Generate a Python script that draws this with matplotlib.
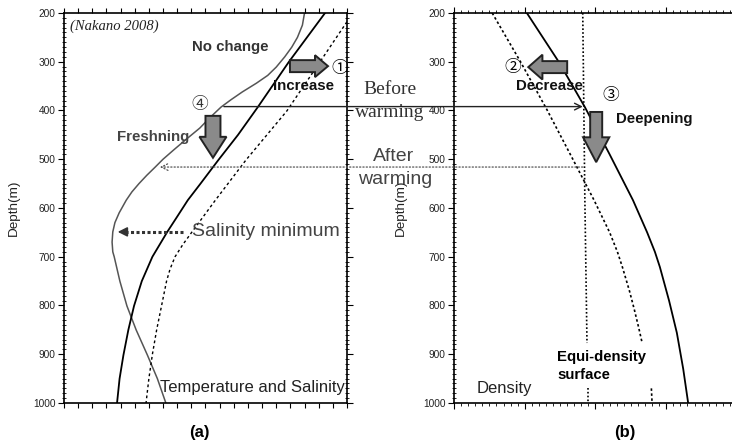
import matplotlib
matplotlib.use("Agg")
import matplotlib.pyplot as plt
from matplotlib.patches import FancyArrow, ConnectionPatch
from matplotlib.ticker import MultipleLocator

plt.rcParams['font.family'] = ['Liberation Sans', 'DejaVu Sans']

# panel (a): temperature and salinity profiles (x in arbitrary units)
sal_depth = [200, 225, 250, 270, 290, 311, 328, 344, 362, 378, 393, 415, 436, 460, 481, 500, 516,
             533, 550, 567, 584, 610, 630, 649, 670, 690, 700, 750, 801, 850, 902, 950, 1000]
sal_x = [17.0, 16.85, 16.5, 16.1, 15.6, 15.0, 14.4, 13.6, 12.6, 11.8, 11.1, 10.3, 9.6, 8.6, 7.75, 7.0, 6.45,
         5.85, 5.3, 4.8, 4.4, 3.9, 3.6, 3.45, 3.4, 3.45, 3.55, 3.95, 4.45, 5.1, 5.9, 6.6, 7.2]

temp_depth = [200, 300, 393, 450, 502, 550, 584, 620, 649, 700, 750, 801, 850, 902, 950, 1000]
temp_x = [18.45, 15.9, 13.7, 12.3, 10.9, 9.65, 8.75, 7.95, 7.3, 6.25, 5.5, 4.95, 4.55, 4.2, 3.93, 3.75]

temp_after_depth = [218, 300, 401, 502, 584, 649, 675, 700, 725, 750, 800, 850, 900, 950, 1000]
temp_after_x = [20.0, 18.1, 15.75, 12.85, 10.7, 9.05, 8.4, 7.85, 7.5, 7.25, 6.9, 6.55, 6.25, 6.0, 5.8]

# panel (b): density profiles
dens_depth = [200, 300, 393, 490, 584, 650, 690, 721, 790, 856, 930, 1000]
dens_x = [1.03, 1.48, 1.85, 2.2, 2.53, 2.73, 2.84, 2.91, 3.04, 3.15, 3.24, 3.31]

dens_after_depth = [200, 300, 400, 500, 584, 650, 690, 721, 770, 809, 845, 877]
dens_after_x = [0.54, 0.94, 1.32, 1.68, 1.98, 2.2, 2.31, 2.38, 2.48, 2.55, 2.61, 2.66]
dens_after_low_depth = [970, 1000]
dens_after_low_x = [2.79, 2.80]

iso_depth = [200, 584, 877]
iso_x = [1.82, 1.85, 1.88]
iso_low_depth = [970, 1000]
iso_low_x = [1.90, 1.90]

before_depth = 392
after_depth = 516
salmin_depth = 649

depth_ticks = [200, 300, 400, 500, 600, 700, 800, 900, 1000]

fig = plt.figure(figsize=(7.32, 4.45), dpi=100)
ax1 = fig.add_axes([0.0874, 0.0944, 0.3866, 0.8764])
ax2 = fig.add_axes([0.6202, 0.0944, 0.3866, 0.8764])

# curves
ax1.plot(sal_x, sal_depth, color='#555555', lw=1.1)
ax1.plot(temp_x, temp_depth, color='black', lw=1.3)
ax1.plot(temp_after_x, temp_after_depth, color='black', lw=1.0, ls=(0, (2, 2)))

ax2.plot(dens_x, dens_depth, color='black', lw=1.3)
ax2.plot(dens_after_x, dens_after_depth, color='black', lw=1.2, ls=(0, (1.5, 1.5)))
ax2.plot(dens_after_low_x, dens_after_low_depth, color='black', lw=1.2, ls=(0, (1.5, 1.5)))
ax2.plot(iso_x, iso_depth, color='black', lw=1.2, ls=(0, (1, 1.3)))
ax2.plot(iso_low_x, iso_low_depth, color='black', lw=1.2, ls=(0, (1, 1.3)))

for ax, xmax in ((ax1, 20), (ax2, 4)):
    ax.set_xlim(0, xmax)
    ax.set_ylim(1000, 200)
    ax.set_yticks(depth_ticks)
    ax.yaxis.set_minor_locator(MultipleLocator(10))
    ax.tick_params(axis='y', which='major', direction='out', length=4, width=0.8,
                   left=True, right=True, labelsize=7.3, labelcolor='#222222', pad=2)
    ax.tick_params(axis='y', which='minor', direction='inout', length=3, width=0.6,
                   left=True, right=True)
    ax.tick_params(axis='x', which='both', top=True, bottom=True, labelbottom=False)
    for s in ax.spines.values():
        s.set_linewidth(1.2)
    ax.set_ylabel('Depth(m)', fontsize=9.7, color='#222222')

ax1.xaxis.set_major_locator(MultipleLocator(1))
ax1.tick_params(axis='x', which='major', direction='out', length=3.5, width=0.8)
ax2.xaxis.set_major_locator(MultipleLocator(1))
ax2.xaxis.set_minor_locator(MultipleLocator(0.1))
ax2.tick_params(axis='x', which='major', direction='out', length=4, width=0.8)
ax2.tick_params(axis='x', which='minor', direction='out', length=2, width=0.6)

ax1.yaxis.set_label_coords(-0.155, 0.5)
ax2.yaxis.set_label_coords(-0.165, 0.5)

# block arrows
arrow_kw = dict(length_includes_head=True, facecolor='#8a8a8a', edgecolor='#222222', lw=1.4, zorder=4)
ax1.add_patch(FancyArrow(15.97, 309, 2.69, 0, width=24.6, head_width=45, head_length=0.92, **arrow_kw))
ax1.add_patch(FancyArrow(10.53, 411, 0, 86, width=1.06, head_width=1.91, head_length=43, **arrow_kw))
ax2.add_patch(FancyArrow(1.60, 311, -0.55, 0, width=24.6, head_width=51, head_length=0.2, **arrow_kw))
ax2.add_patch(FancyArrow(2.01, 403, 0, 103, width=0.17, head_width=0.37, head_length=51, **arrow_kw))

# connecting lines between panels
con1 = ConnectionPatch(xyA=(11.3, before_depth), coordsA=ax1.transData,
                       xyB=(1.82, before_depth), coordsB=ax2.transData,
                       arrowstyle='->', lw=1.0, color='#222222', mutation_scale=12)
fig.add_artist(con1)
con2 = ConnectionPatch(xyA=(1.82, after_depth), coordsA=ax2.transData,
                       xyB=(6.78, after_depth), coordsB=ax1.transData,
                       arrowstyle='->', lw=0.9, ls=':', color='#555555', mutation_scale=12)
fig.add_artist(con2)

# salinity minimum arrow
ax1.plot([4.3, 8.4], [salmin_depth, salmin_depth], color='#333333', lw=2.2, ls=(0, (1, 0.8)))
ax1.annotate('', xy=(3.6, salmin_depth), xytext=(4.6, salmin_depth),
             arrowprops=dict(arrowstyle='-|>', color='#333333', lw=1.2, mutation_scale=14))

# labels
bold = dict(fontsize=10.8, fontweight='bold', ha='center', va='center')
ax1.text(11.73, 270, 'No change', color='#333333', **bold)
ax1.text(16.9, 350, 'Increase', color='#111111', **bold)
ax1.text(6.3, 454, 'Freshning', color='#444444', **bold)
ax2.text(1.35, 350, 'Decrease', color='#111111', **bold)
ax2.text(2.83, 417, 'Deepening', color='#111111', **bold)
ax2.text(1.46, 906, 'Equi-density', fontsize=10.7, fontweight='bold', ha='left', va='center')
ax2.text(1.46, 943, 'surface', fontsize=10.7, fontweight='bold', ha='left', va='center')
ax2.text(0.71, 971, 'Density', fontsize=12, ha='center', va='center', color='#222222')
ax1.text(13.3, 969, 'Temperature and Salinity', fontsize=12, ha='center', va='center', color='#222222')
ax1.text(9.05, salmin_depth, 'Salinity minimum', fontsize=14, ha='left', va='center', color='#444444')
ax1.text(0.42, 227, '(Nakano 2008)', fontsize=10.5, style='italic', family='Liberation Serif',
         ha='left', va='center', color='#222222')

circ = dict(fontsize=12, ha='center', va='center', family=['Noto Sans CJK JP', 'DejaVu Sans'], zorder=5)
ax1.text(19.5, 313, '\u2460', **circ)
ax1.text(9.61, 387, '\u2463', color='#333333', **circ)
ax2.text(0.83, 311, '\u2461', **circ)
ax2.text(2.22, 370, '\u2462', **circ)

fig.text(0.533, 0.798, 'Before', fontsize=14, family='Liberation Serif', ha='center', va='center', color='#333333')
fig.text(0.533, 0.748, 'warming', fontsize=14, family='Liberation Serif', ha='center', va='center', color='#333333')
fig.text(0.537, 0.649, 'After', fontsize=14, ha='center', va='center', color='#444444')
fig.text(0.540, 0.596, 'warming', fontsize=14, ha='center', va='center', color='#444444')

fig.text(0.273, 0.029, '(a)', fontsize=12, fontweight='bold', ha='center', va='center')
fig.text(0.854, 0.029, '(b)', fontsize=12, fontweight='bold', ha='center', va='center')

fig.savefig('out.png', dpi=100)
